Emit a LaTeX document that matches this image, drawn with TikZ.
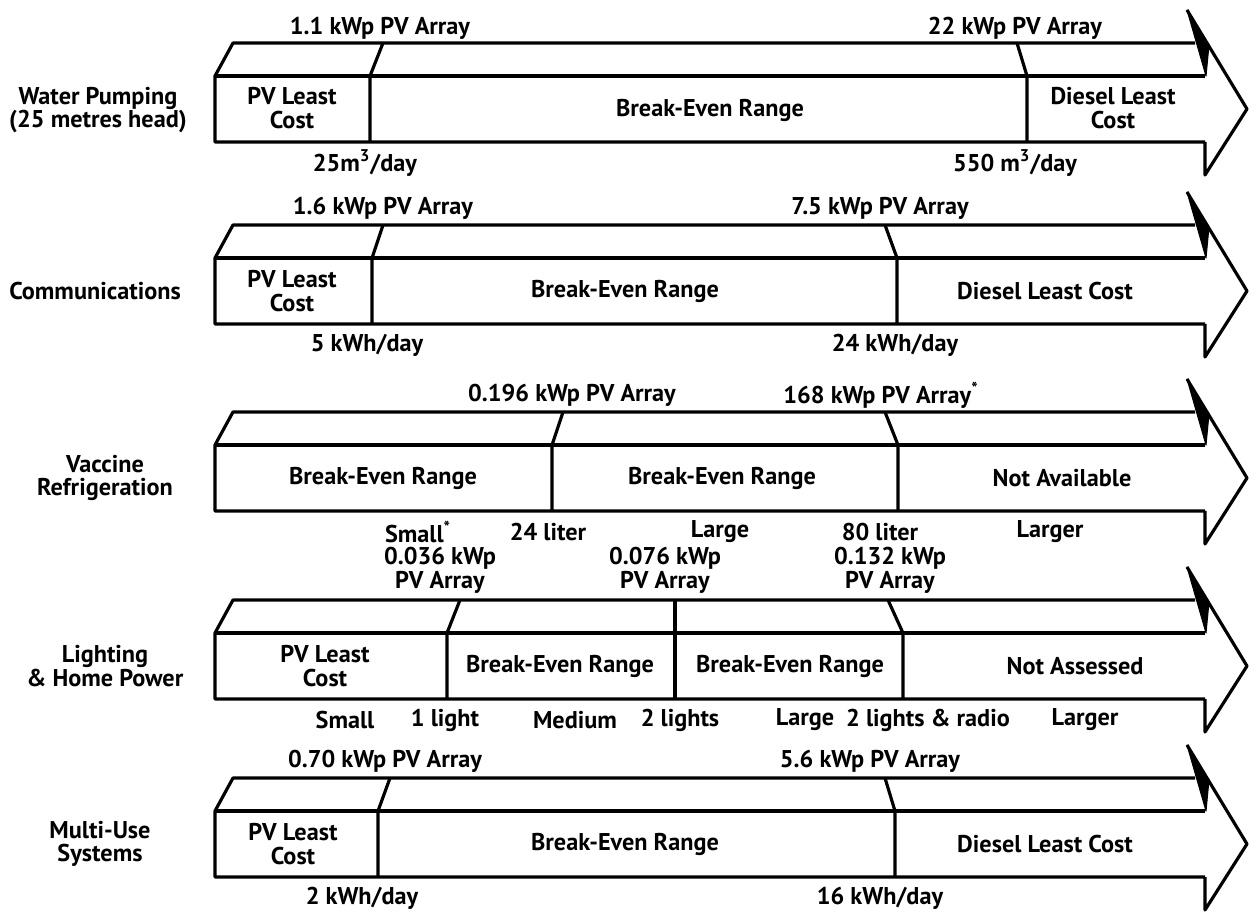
\documentclass[tikz,border=0pt]{standalone}
\usepackage{fontspec}
\setmainfont{PT Sans}

\begin{document}
\begin{tikzpicture}[x=0.02cm,y=-0.02cm,
  body/.style={draw=black,line width=1.8pt,line join=round},
  wedge/.style={fill=black,draw=black,line width=0.6pt,line join=round},
  txt/.style={font=\bfseries\fontsize{13.8}{13.5}\selectfont,align=center,inner sep=1pt},
]
\useasboundingbox (0,0) rectangle (1259,912);
% arrow bodies, one per row (y of the back top edge)
\foreach \t in {43,225,412,600,778}{
  \draw[body] (1205,\t+99) -- (215,\t+99) -- (215,\t+33) -- (233,\t) -- (1195,\t);
  \draw[body] (215,\t+33) -- (1205,\t+33);
  \draw[body] (1205,\t+99) -- (1205,\t+132) -- (1247,\t+66) -- (1187,\t-33);
  \fill[wedge] (1187,\t-33) -- (1209,\t+2) -- (1206,\t+33) -- cycle;
}
% dividers: row top / x on back edge / x on front face
\foreach \t/\a/\b in {43/383/370,43/1017/1027,225/383/372,225/885/897,
  412/563/552,412/885/898,600/460/447,600/675/675,600/888/903,
  778/390/378,778/885/895}
  \draw[body] (\a,\t) -- (\b,\t+33) -- (\b,\t+99);

% water pumping
\node[txt] (wp) at (98,110) {Water Pumping\\(25 metres head)};
\node[txt] (wpTa) at (380,28) {1.1 kWp PV Array};
\node[txt] (wpTb) at (1015,28) {22 kWp PV Array};
\node[txt] (wpCa) at (292,108) {PV Least\\Cost};
\node[txt] (wpCb) at (710,110) {Break-Even Range};
\node[txt] (wpCc) at (1113,108) {Diesel Least\\Cost};
\node[txt] (wpBa) at (365,163) {25m\textsuperscript{3}/day};
\node[txt] (wpBb) at (1015,163) {550 m\textsuperscript{3}/day};

% communications
\node[txt] (cm) at (95,291) {Communications};
\node[txt] (cmTa) at (383,208) {1.6 kWp PV Array};
\node[txt] (cmTb) at (880,208) {7.5 kWp PV Array};
\node[txt] (cmCa) at (292,291) {PV Least\\Cost};
\node[txt] (cmCb) at (625,291) {Break-Even Range};
\node[txt] (cmCc) at (1045,291) {Diesel Least Cost};
\node[txt] (cmBa) at (367,345) {5 kWh/day};
\node[txt] (cmBb) at (895,345) {24 kWh/day};

% vaccine refrigeration
\node[txt] (vr) at (105,478) {Vaccine\\Refrigeration};
\node[txt] (vrTa) at (572,395) {0.196 kWp PV Array};
\node[txt] (vrTb) at (881,395) {168 kWp PV Array\textsuperscript{*}};
\node[txt] (vrCa) at (383,478) {Break-Even Range};
\node[txt] (vrCb) at (722,478) {Break-Even Range};
\node[txt] (vrCc) at (1062,478) {Not Available};
\node[txt] (vrBa) at (418,532) {Small\textsuperscript{*}};
\node[txt] (vrBb) at (548,532) {24 liter};
\node[txt] (vrBc) at (720,532) {Large};
\node[txt] (vrBd) at (880,532) {80 liter};
\node[txt] (vrBe) at (1050,532) {Larger};

% lighting and home power
\node[txt] (lh) at (105,666) {Lighting\\\& Home Power};
\node[txt] (lhTa) at (440,570) {0.036 kWp\\PV Array};
\node[txt] (lhTb) at (665,570) {0.076 kWp\\PV Array};
\node[txt] (lhTc) at (890,570) {0.132 kWp\\PV Array};
\node[txt] (lhCa) at (325,666) {PV Least\\Cost};
\node[txt] (lhCb) at (560,666) {Break-Even Range};
\node[txt] (lhCc) at (790,666) {Break-Even Range};
\node[txt] (lhCd) at (1075,666) {Not Assessed};
\node[txt] (lhBa) at (345,720) {Small};
\node[txt] (lhBb) at (445,720) {1 light};
\node[txt] (lhBc) at (575,720) {Medium};
\node[txt] (lhBd) at (680,720) {2 lights};
\node[txt] (lhBe) at (805,720) {Large};
\node[txt] (lhBf) at (928,720) {2 lights \& radio};
\node[txt] (lhBg) at (1085,720) {Larger};

% multi-use systems
\node[txt] (mu) at (100,844) {Multi-Use\\Systems};
\node[txt] (muTa) at (385,761) {0.70 kWp PV Array};
\node[txt] (muTb) at (870,761) {5.6 kWp PV Array};
\node[txt] (muCa) at (293,844) {PV Least\\Cost};
\node[txt] (muCb) at (625,844) {Break-Even Range};
\node[txt] (muCc) at (1045,844) {Diesel Least Cost};
\node[txt] (muBa) at (362,898) {2 kWh/day};
\node[txt] (muBb) at (880,898) {16 kWh/day};
\end{tikzpicture}
\end{document}
